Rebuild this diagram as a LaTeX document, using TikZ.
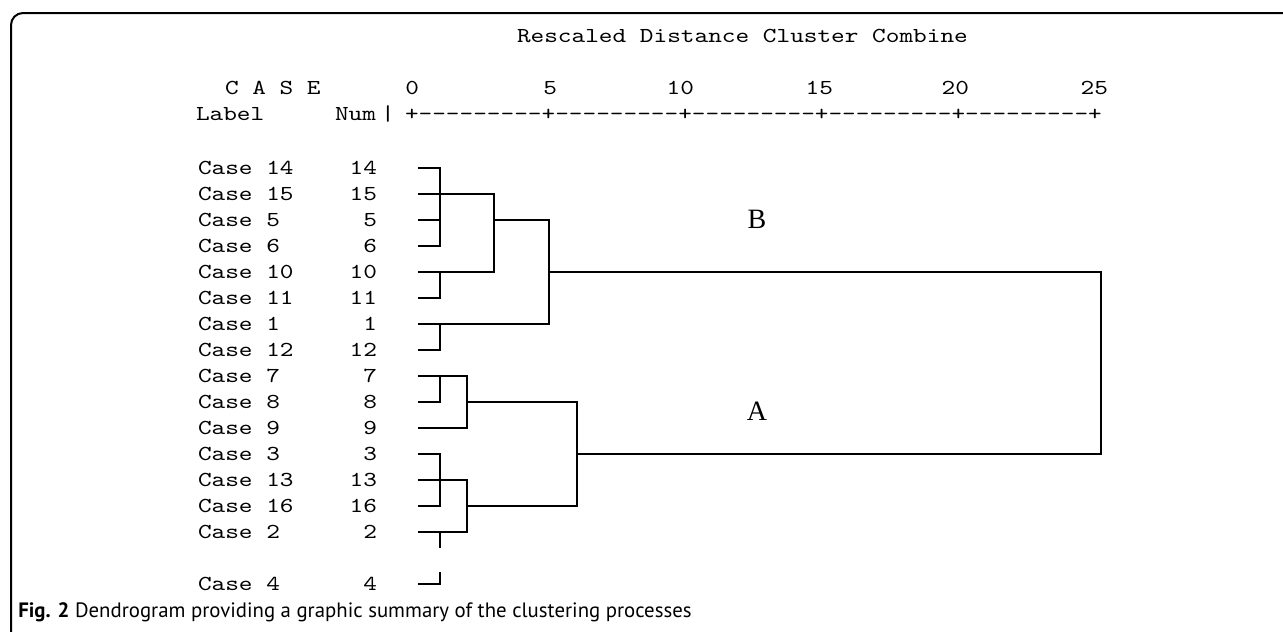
\documentclass[tikz,border=0pt]{standalone}
\usepackage{fontspec}
\setmonofont{lmmono10-regular.otf}[FakeStretch=1.22]
\newfontfamily\capsans{PT Sans}
\newfontfamily\abfont{Liberation Serif}
\usetikzlibrary{calc}
\begin{document}
\begin{tikzpicture}[x=0.75pt,y=-0.75pt,
  txt/.style={inner sep=0pt,outer sep=0pt,font=\ttfamily\fontsize{16pt}{18pt}\selectfont},
  link/.style={line width=2.1pt,line join=miter},
  frame/.style={line width=1.5pt,rounded corners=9pt},
  grp/.style={inner sep=0pt,font=\abfont\fontsize{21pt}{24pt}\selectfont}]
\useasboundingbox (0,0) rectangle (1283,632);

% outer frame (top and left edges)
\draw[frame] (11,632) -- (11,13) -- (1283,13);

% header
\node[txt,anchor=base west] (title) at (517,42) {Rescaled Distance Cluster Combine};
\node[txt,anchor=base west] (casehdr) at (225,94) {C A S E};
\foreach \v/\x in {0/419,5/557,10/694,15/833,20/969,25/1108}
  \node[txt,anchor=base east] (t\v) at (\x,94) {\v};
\node[txt,anchor=base west] (labelhdr) at (196,120) {Label};
\node[txt,anchor=base east] (numhdr) at (376,120) {Num};
\node[txt,anchor=base] (bar) at (388,120) {|};
\node[txt,anchor=base west] (ruler) at (405,120) {+---------+---------+---------+---------+---------+};

% case rows and leaf anchors
\foreach \c/\i in {14/0,15/1,5/2,6/3,10/4,11/5,1/6,12/7,7/8,8/9,9/10,3/11,13/12,16/13,2/14,4/16}{
  \node[txt,anchor=base west] (lab\c) at (198,{168+26*\i+6.5}) {Case \c};
  \node[txt,anchor=base east] (num\c) at (377,{168+26*\i+6.5}) {\c};
  \coordinate (leaf\c) at (418,{168+26*\i});
}

% merge columns
\coordinate (c1) at (440,0);
\coordinate (c2) at (467,0);
\coordinate (c3) at (494,0);
\coordinate (c5) at (549,0);
\coordinate (c6) at (577,0);
\coordinate (c25) at (1101,0);

% cluster B
\draw[link] (leaf14) -- (leaf14-|c1) |- (leaf6);
\draw[link] (leaf5) -- (leaf5-|c1);
\draw[link] (leaf15) -| (leaf10-|c3) -- (leaf10);
\draw[link] (leaf10-|c1) |- (leaf11);
\draw[link] (leaf5-|c3) -| (leaf1-|c5) -- (leaf1);
\draw[link] (leaf1-|c1) |- (leaf12);

% cluster A
\draw[link] (leaf7) -| (leaf9-|c2) -- (leaf9);
\draw[link] (leaf7-|c1) |- (leaf8);
\draw[link] (leaf8-|c2) -| (leaf16-|c6) -- (leaf16-|c2);
\draw[link] (leaf3) -| (leaf16-|c1) -- (leaf16);
\draw[link] (leaf13) -| (leaf2-|c2) -- (leaf2);
\draw[link] (leaf2-|c1) -- ++(0,16);
\draw[link] (leaf4) -- (leaf4-|c1) -- ++(0,-12);

% top-level join
\draw[link] (leaf10-|c5) -| (leaf3-|c25) -- (leaf3-|c6);

% group labels
\node[grp] (B) at (757,219) {B};
\node[grp] (A) at (757,411) {A};

% caption
\node[inner sep=0pt,anchor=base west,font=\capsans\fontsize{15.6pt}{18pt}\selectfont] (cap) at (18,617)
  {\textbf{Fig. 2} Dendrogram providing a graphic summary of the clustering processes};
\end{tikzpicture}
\end{document}
